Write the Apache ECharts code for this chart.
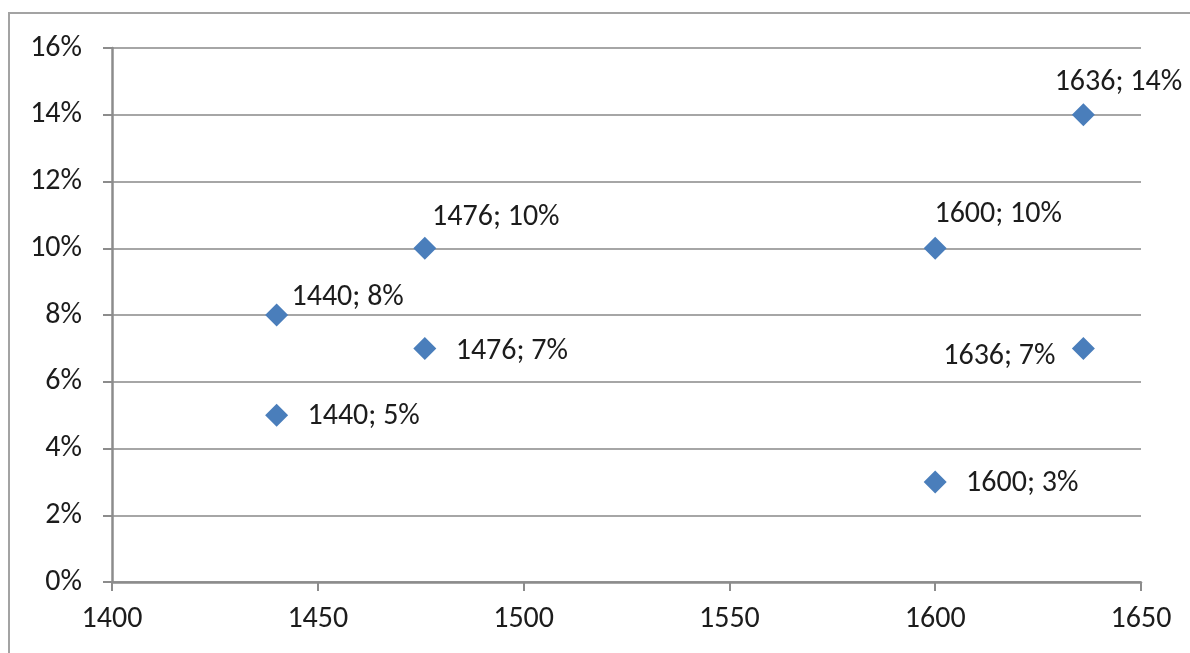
<!DOCTYPE html>
<html>
<head>
<meta charset="utf-8">
<style>
  html, body { margin: 0; padding: 0; background: #ffffff; }
  #chart { width: 1190px; height: 653px; }
</style>
<script src="https://cdn.jsdelivr.net/npm/echarts@6/dist/echarts.min.js"></script>
</head>
<body>
<div id="chart"></div>
<script>
// Observations: year and share
const years  = [1440, 1440, 1476, 1476, 1600, 1600, 1636, 1636];
const shares = [0.08, 0.05, 0.10, 0.07, 0.10, 0.03, 0.14, 0.07];

// Axis ticks
const xTicks = { min: 1400, max: 1650, step: 50 };
const yTicks = { min: 0, max: 0.16, step: 0.02 };

// Where each data label sits relative to its marker (pixels)
const labelOffsets = [
  [71, -18], [87, 1], [71, -31], [87, 3],
  [63, -34], [87, 2], [35, -32], [-84, 8]
];

const FONT = 'Carlito, Lato, "Open Sans", sans-serif';
const TEXT = '#1c1c1c';
const FONT_SIZE = 30;

const points = years.map((yr, i) => ({
  value: [yr, shares[i]],
  label: { offset: labelOffsets[i] }
}));

const chart = echarts.init(document.getElementById('chart'), null, { renderer: 'canvas' });

chart.setOption({
  animation: false,
  backgroundColor: '#ffffff',
  graphic: [{
    type: 'rect',
    shape: { x: 9, y: 13, width: 1240, height: 700 },
    style: { fill: 'none', stroke: '#a3a3a3', lineWidth: 2 },
    silent: true,
    z: -1
  }],
  grid: { left: 112, right: 49, top: 48, bottom: 71 },
  xAxis: {
    type: 'value',
    min: xTicks.min, max: xTicks.max, interval: xTicks.step,
    axisLine: { show: true, lineStyle: { color: '#8c8c8c', width: 2.5 } },
    axisTick: { show: true, length: 9, lineStyle: { color: '#8c8c8c', width: 2 } },
    splitLine: { show: false },
    axisLabel: {
      color: TEXT, fontFamily: FONT, fontSize: FONT_SIZE, margin: 22,
      formatter: v => String(v)
    }
  },
  yAxis: {
    type: 'value',
    min: yTicks.min, max: yTicks.max, interval: yTicks.step,
    axisLine: { show: true, lineStyle: { color: '#8c8c8c', width: 2.5 } },
    axisTick: { show: true, length: 9, lineStyle: { color: '#8c8c8c', width: 2 } },
    splitLine: { show: true, lineStyle: { color: '#a6a6a6', width: 2 } },
    axisLabel: {
      color: TEXT, fontFamily: FONT, fontSize: FONT_SIZE, margin: 30,
      formatter: v => Math.round(v * 100) + '%'
    }
  },
  series: [{
    type: 'scatter',
    symbol: 'diamond',
    symbolSize: 23,
    itemStyle: { color: '#4a7ebb', opacity: 1 },
    label: {
      show: true,
      position: 'inside',
      color: TEXT,
      fontFamily: FONT,
      fontSize: FONT_SIZE,
      formatter: p => p.value[0] + '; ' + Math.round(p.value[1] * 100) + '%'
    },
    data: points
  }]
});
</script>
</body>
</html>
